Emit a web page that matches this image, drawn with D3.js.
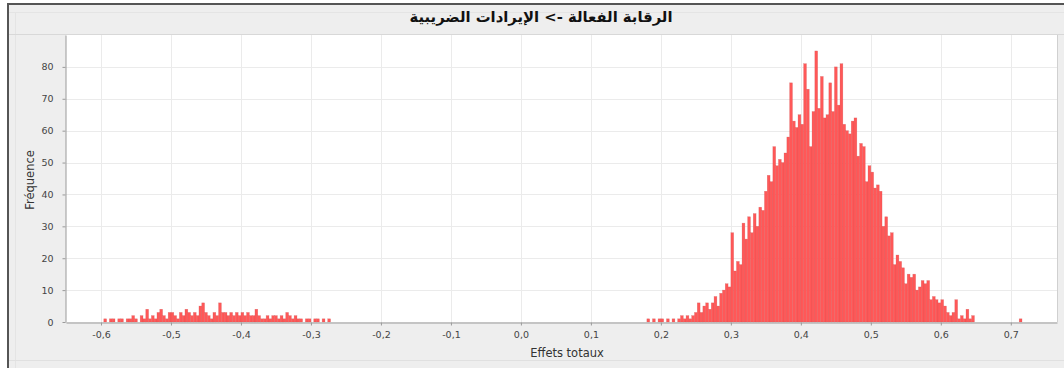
<!DOCTYPE html>
<html>
<head>
<meta charset="utf-8">
<script src="https://cdn.jsdelivr.net/npm/d3@7"></script>
<style>
  html, body { margin: 0; padding: 0; background: #ffffff; }
  svg { display: block; }
</style>
</head>
<body>
<svg id="chart" width="1064" height="368"></svg>
<script>
// Histogram of total effects (bin width 0.004)
const binWidth = 0.004;

// left cluster: first bin centre at -0.594
const leftStart = -0.594;
const leftCounts = [1,0,1,1,0,1,1,0,1,1,2,1,0,2,1,4,1,2,1,3,4,2,1,3,3,2,1,3,2,4,
  3,2,3,2,5,6,3,2,1,3,2,6,3,3,2,3,2,3,2,3,2,3,2,2,4,2,1,1,2,1,
  2,2,1,2,1,3,2,1,2,1,1,0,1,1,0,1,1,0,1,0,1];

// right cluster: first bin centre at 0.182
const rightStart = 0.182;
const rightCounts = [1,0,1,0,1,1,0,1,0,1,0,1,2,1,2,1,2,3,6,3,5,6,4,6,8,5,9,10,12,11,
  28,16,19,18,31,26,33,28,34,30,36,35,41,46,44,55,49,51,50,53,58,75,63,61,65,62,81,73,55,66,
  85,67,77,64,65,75,66,80,68,81,62,60,59,63,64,52,56,55,44,49,47,42,43,41,30,33,27,28,18,21,
  19,17,12,15,14,15,10,11,13,12,13,7,8,7,6,7,5,3,2,3,7,1,2,1,4,1,2];

// isolated bin
const outlierCentres = [0.714];
const outlierCounts = [1];

const xTicks = [-0.6,-0.5,-0.4,-0.3,-0.2,-0.1,0.0,0.1,0.2,0.3,0.4,0.5,0.6,0.7];
const yTicks = [0,10,20,30,40,50,60,70,80];

const titleText = "الرقابة الفعالة -> الإيرادات الضريبية";
const xLabel = "Effets totaux";
const yLabel = "Fréquence";

const bins = [];
leftCounts.forEach((c, i) => bins.push({ centre: leftStart + i * binWidth, count: c }));
rightCounts.forEach((c, i) => bins.push({ centre: rightStart + i * binWidth, count: c }));
outlierCentres.forEach((c, i) => bins.push({ centre: c, count: outlierCounts[i] }));

const svg = d3.select("#chart");
const W = 1064, H = 368;
const plot = { left: 66, right: 1057, top: 35, bottom: 322 };

// frame and panel background
svg.append("rect").attr("x", 7).attr("y", 3).attr("width", W - 7).attr("height", H - 3).attr("fill", "#eeeeee");
svg.append("rect").attr("x", 7).attr("y", 3).attr("width", W - 7).attr("height", 2).attr("fill", "#555555");
svg.append("rect").attr("x", 7).attr("y", 3).attr("width", 2).attr("height", H - 3).attr("fill", "#555555");
svg.append("line").attr("x1", 9).attr("x2", W).attr("y1", 12.5).attr("y2", 12.5).attr("stroke", "#e4e4e4");
svg.append("line").attr("x1", 15.5).attr("x2", 15.5).attr("y1", 12).attr("y2", H).attr("stroke", "#e4e4e4");
svg.append("line").attr("x1", 9).attr("x2", W).attr("y1", 360.5).attr("y2", 360.5).attr("stroke", "#e0e0e0");
svg.append("line").attr("x1", 9).attr("x2", W).attr("y1", 34.5).attr("y2", 34.5).attr("stroke", "#d8d8d8");

const x = d3.scaleLinear().domain([-0.65, 0.766]).range([plot.left, plot.right]);
const y = d3.scaleLinear().domain([0, 90]).range([plot.bottom, plot.top]);

// plot background
svg.append("rect")
  .attr("x", plot.left).attr("y", plot.top)
  .attr("width", plot.right - plot.left).attr("height", plot.bottom - plot.top)
  .attr("fill", "#ffffff");

// gridlines
const grid = svg.append("g");
grid.selectAll("line.v").data(xTicks).join("line")
  .attr("x1", d => Math.round(x(d)) + 0.5).attr("x2", d => Math.round(x(d)) + 0.5)
  .attr("y1", plot.top).attr("y2", plot.bottom)
  .attr("stroke", "#ebebeb");
grid.selectAll("line.h").data(yTicks.slice(1)).join("line")
  .attr("x1", plot.left).attr("x2", plot.right)
  .attr("y1", d => Math.round(y(d)) + 0.5).attr("y2", d => Math.round(y(d)) + 0.5)
  .attr("stroke", "#ebebeb");

// bars
svg.append("g").selectAll("rect").data(bins.filter(b => b.count > 0)).join("rect")
  .attr("x", d => x(d.centre - binWidth / 2))
  .attr("width", d => x(d.centre + binWidth / 2) - x(d.centre - binWidth / 2))
  .attr("y", d => y(d.count))
  .attr("height", d => y(0) - y(d.count))
  .attr("fill", "#ff5858")
  .attr("stroke", "#c84a4a")
  .attr("stroke-opacity", 0.45)
  .attr("stroke-width", 0.5);

// plot border on the right
svg.append("line").attr("x1", plot.right + 0.5).attr("x2", plot.right + 0.5)
  .attr("y1", plot.top).attr("y2", plot.bottom).attr("stroke", "#d0d0d0");

const fmt = d => d3.format(".1f")(d).replace(".", ",").replace("−", "-");

// x axis
const xAxis = svg.append("g").attr("transform", `translate(0,${plot.bottom + 0.5})`)
  .call(d3.axisBottom(x).tickValues(xTicks).tickFormat(fmt).tickSize(3).tickSizeOuter(0));
xAxis.select(".domain").attr("stroke", "#9a9a9a");
xAxis.selectAll(".tick line").attr("stroke", "#9a9a9a");
xAxis.selectAll(".tick text").attr("fill", "#444").attr("dy", "0.95em")
  .style("font-family", "'DejaVu Sans', sans-serif").style("font-size", "9.5px");

// y axis
const yAxis = svg.append("g").attr("transform", `translate(${plot.left - 0.5},0)`)
  .call(d3.axisLeft(y).tickValues(yTicks).tickFormat(d3.format("d")).tickSize(3).tickSizeOuter(0));
yAxis.select(".domain").attr("stroke", "#9a9a9a");
yAxis.selectAll(".tick line").attr("stroke", "#9a9a9a");
yAxis.selectAll(".tick text").attr("fill", "#444").attr("x", -12)
  .style("font-family", "'DejaVu Sans', sans-serif").style("font-size", "9.5px");

// axis labels
svg.append("text").attr("x", 567).attr("y", 357).attr("text-anchor", "middle")
  .attr("fill", "#333").style("font-family", "'DejaVu Sans', sans-serif").style("font-size", "11.5px")
  .text(xLabel);
svg.append("text").attr("transform", "translate(34,180) rotate(-90)").attr("text-anchor", "middle")
  .attr("fill", "#333").style("font-family", "'DejaVu Sans', sans-serif").style("font-size", "11.5px")
  .text(yLabel);

// title
svg.append("text").attr("x", 541).attr("y", 22).attr("text-anchor", "middle")
  .attr("fill", "#111").style("font-family", "'DejaVu Sans', sans-serif")
  .style("font-size", "14.8px").style("font-weight", "bold")
  .attr("direction", "rtl").style("unicode-bidi", "plaintext")
  .text(titleText);
</script>
</body>
</html>
